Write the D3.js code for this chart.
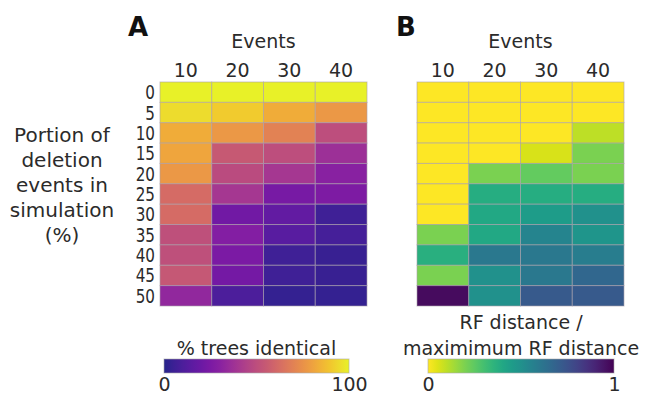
<!DOCTYPE html>
<html>
<head>
<meta charset="utf-8">
<script src="https://cdn.jsdelivr.net/npm/d3@7"></script>
<style>
  body { margin: 0; background: #fff; }
  svg { display: block; }
  text { font-family: "DejaVu Sans", sans-serif; fill: #2b2b2b; }
</style>
</head>
<body>
<div id="chart"></div>
<script>
(function() {
"use strict";

// simulation settings
const events = [10, 20, 30, 40];
const deletion = [0, 5, 10, 15, 20, 25, 30, 35, 40, 45, 50];

// panel A: % trees identical, one row per deletion portion
const identical = [
  [100, 100, 100, 100],
  [95, 91, 83, 77],
  [83, 77, 70, 50],
  [81, 55, 50, 37],
  [77, 49, 40, 30],
  [62, 40, 24, 26],
  [62, 22, 17, 6],
  [51, 28, 14, 8],
  [51, 25, 6, 4],
  [54, 23, 6, 4],
  [33, 10, 3, 3]
];

// panel B: RF distance / maximum RF distance
const rfDist = [
  [0, 0, 0, 0],
  [0, 0, 0, 0],
  [0, 0, 0, 0.1],
  [0, 0, 0.06, 0.2],
  [0, 0.2, 0.24, 0.2],
  [0, 0.38, 0.38, 0.38],
  [0, 0.4, 0.45, 0.5],
  [0.2, 0.4, 0.55, 0.48],
  [0.37, 0.6, 0.6, 0.58],
  [0.2, 0.5, 0.6, 0.67],
  [0.97, 0.5, 0.72, 0.72]
];

const WIDTH = 645;
const HEIGHT = 394;
const TOP = 82, BOTTOM = 306;

const svg = d3.select("#chart")
  .append("svg")
  .attr("width", WIDTH)
  .attr("height", HEIGHT);

const defs = svg.append("defs");

// the printed figure is a bit muted, the violets lean towards blue
const mutedPlasma = t => d3.interpolateRgb(d3.interpolatePlasma(t), "#6e7296")(0.2 * (1 - t) + 0.06);
const reversedViridis = t => d3.interpolateViridis(1 - t);

const colorA = d3.scaleSequential(mutedPlasma).domain([0, 100]);
const colorB = d3.scaleSequential(reversedViridis).domain([0, 1]);

const yScale = d3.scaleBand().domain(deletion).range([TOP, BOTTOM]);

function heatmap(x0, x1, values, color, letter, letterX) {
  const xScale = d3.scaleBand().domain(events).range([x0, x1]);
  const g = svg.append("g");

  const cells = [];
  values.forEach((row, i) => row.forEach((v, j) => {
    cells.push({ row: deletion[i], col: events[j], v: v });
  }));

  g.selectAll("rect")
    .data(cells)
    .enter()
    .append("rect")
      .attr("x", d => xScale(d.col))
      .attr("y", d => yScale(d.row))
      .attr("width", xScale.bandwidth())
      .attr("height", yScale.bandwidth())
      .attr("fill", d => color(d.v))
      .attr("stroke", "rgba(170,160,170,0.6)")
      .attr("stroke-width", 1);

  const xAxis = g.append("g")
    .attr("transform", `translate(0, ${TOP - 5})`)
    .call(d3.axisTop(xScale).tickSize(0).tickPadding(0));
  xAxis.select(".domain").remove();
  xAxis.selectAll("text")
    .attr("font-size", 19)
    .attr("font-family", "DejaVu Sans")
    .attr("fill", "#2b2b2b");

  g.append("text")
    .attr("x", (x0 + x1) / 2)
    .attr("y", 48)
    .attr("text-anchor", "middle")
    .attr("font-size", 19)
    .text("Events");

  svg.append("text")
    .attr("x", letterX)
    .attr("y", 36)
    .attr("font-family", "Liberation Sans, Arial, sans-serif")
    .attr("font-weight", "bold")
    .attr("font-size", 26)
    .style("fill", "#111")
    .text(letter);
}

heatmap(160, 367, identical, colorA, "A", 128);
heatmap(417, 624, rfDist, colorB, "B", 396);

// row labels (narrow, tall digits as in the original)
const rowLabels = svg.append("g");
rowLabels.selectAll("text")
  .data(deletion)
  .enter()
  .append("text")
    .attr("transform", d => `translate(155, ${yScale(d) + yScale.bandwidth() / 2 + 7}) scale(0.76, 1)`)
    .attr("text-anchor", "end")
    .attr("font-size", 20)
    .text(d => d);

// y title
const yTitle = ["Portion of", "deletion", "events in", "simulation", "(%)"];
svg.append("g").selectAll("text")
  .data(yTitle)
  .enter()
  .append("text")
    .attr("x", 62)
    .attr("y", (d, i) => 142 + i * 25)
    .attr("text-anchor", "middle")
    .attr("font-size", 20)
    .text(d => d);

// colour bars
function colorbar(id, x0, x1, interp, domain, titles) {
  const grad = defs.append("linearGradient").attr("id", id);
  d3.range(0, 1.0001, 0.05).forEach(t => {
    grad.append("stop")
      .attr("offset", `${t * 100}%`)
      .attr("stop-color", interp(t));
  });
  const scale = d3.scaleLinear().domain(domain).range([x0, x1]);
  svg.append("rect")
    .attr("x", x0)
    .attr("y", 359)
    .attr("width", x1 - x0)
    .attr("height", 14)
    .attr("fill", `url(#${id})`)
    .attr("stroke", "rgba(170,170,170,0.6)")
    .attr("stroke-width", 1);

  const ax = svg.append("g")
    .attr("transform", "translate(0, 373)")
    .call(d3.axisBottom(scale).tickValues(domain).tickFormat(d3.format("d")).tickSize(0).tickPadding(5));
  ax.select(".domain").remove();
  ax.selectAll("text")
    .attr("font-size", 19)
    .attr("font-family", "DejaVu Sans")
    .attr("fill", "#2b2b2b");

  titles.forEach((t, i) => {
    svg.append("text")
      .attr("x", (x0 + x1) / 2)
      .attr("y", 355 - (titles.length - 1 - i) * 26)
      .attr("text-anchor", "middle")
      .attr("font-size", 19)
      .text(t);
  });
}

colorbar("gradA", 164, 349, mutedPlasma, [0, 100], ["% trees identical"]);
colorbar("gradB", 428, 614, reversedViridis, [0, 1], ["RF distance /", "maximimum RF distance"]);

})();
</script>
</body>
</html>
